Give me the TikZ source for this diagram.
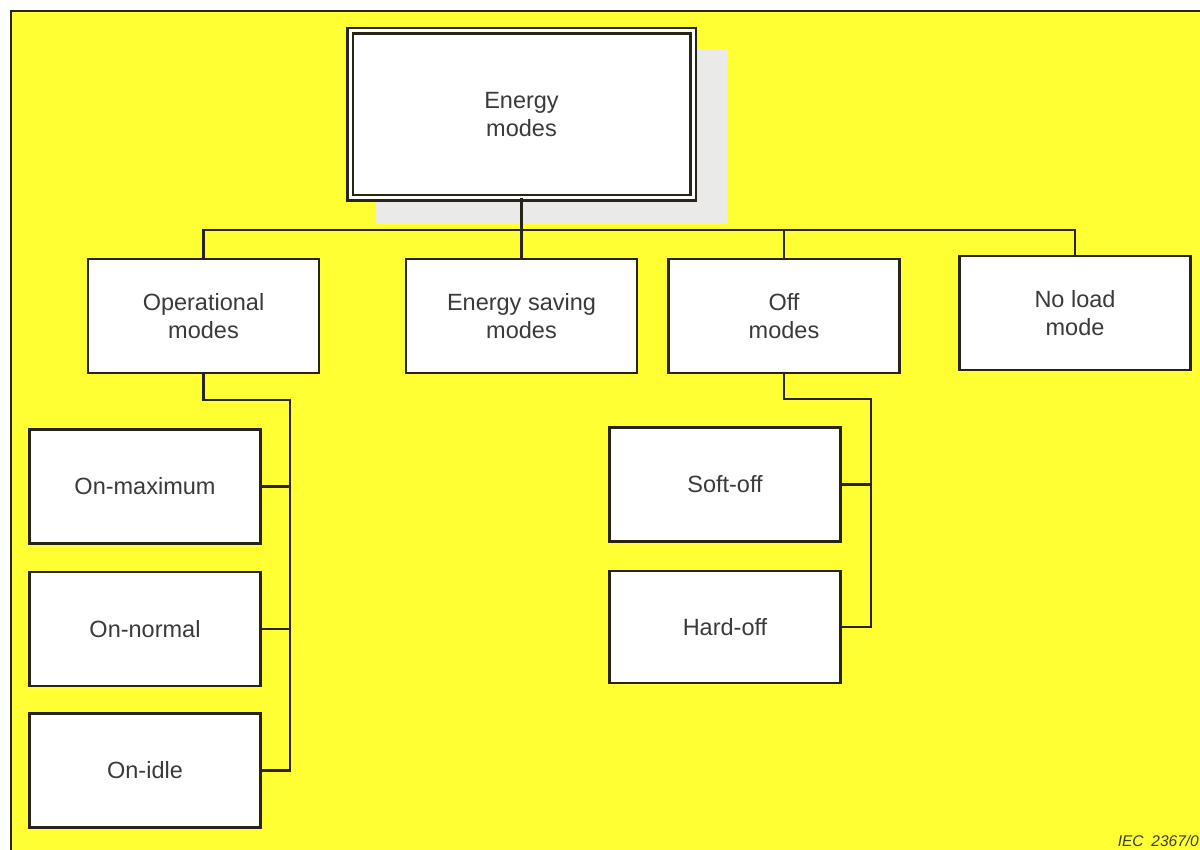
\documentclass[tikz,border=0pt]{standalone}
\usepackage{fontspec}
\newfontfamily\arialf{Liberation Sans}
\definecolor{bgyellow}{RGB}{255,255,51}
\definecolor{linec}{RGB}{40,36,24}
\definecolor{textc}{RGB}{58,58,58}
\definecolor{shadowc}{RGB}{234,234,232}
\tikzset{
  box/.style={draw=linec, line width=2.4pt, fill=white, minimum width=231pt, minimum height=114pt,
    inner sep=0pt, outer sep=0pt, align=center, text=textc,
    font={\arialf\fontsize{23.5}{28.5}\selectfont}},
  topbox/.style={box, line width=2.2pt, double=white, double distance=3pt, minimum width=343pt, minimum height=167pt},
  conn/.style={draw=linec, line width=2.4pt, line join=miter},
  iec/.style={text=textc, font={\arialf\itshape\fontsize{15.5}{18}\selectfont}, inner sep=0pt}
}
\begin{document}
\begin{tikzpicture}[x=1pt,y=-1pt]
\useasboundingbox (0,0) rectangle (1200,850);
\fill[white] (0,0) rectangle (1200,850);
\fill[bgyellow] (11,11) rectangle (1200,850);
\draw[linec, line width=1.5pt] (11,850) -- (11,11) -- (1200,11);
% shadow of the top box
\fill[shadowc] (376,49) rectangle (727,223);
% nodes
\node[topbox] (top) at (521.5,114.5) {Energy\\modes};
\node[box] (op) at (203.5,316) {Operational\\modes};
\node[box] (es) at (521.5,316) {Energy saving\\modes};
\node[box] (off) at (784,316) {Off\\modes};
\node[box] (nl) at (1075,313) {No load\\mode};
\node[box] (onmax) at (145,486.5) {On-maximum};
\node[box] (onnorm) at (145,629) {On-normal};
\node[box] (onidle) at (145,770.5) {On-idle};
\node[box] (soft) at (725,484.5) {Soft-off};
\node[box, minimum height=112pt] (hard) at (725,627) {Hard-off};
% junction coordinates
\coordinate (bus) at (0,230);
\coordinate (opj) at (290,400);
\coordinate (offj) at (871,399);
% connectors
\draw[conn] (top.south) -- (top.south |- bus);
\draw[conn] (op.north) -- (op.north |- bus) -- (nl.north |- bus) -- (nl.north);
\draw[conn] (es.north) -- (es.north |- bus);
\draw[conn] (off.north) -- (off.north |- bus);
\draw[conn] (op.south) |- (opj) -- (opj |- onidle.east) -- (onidle.east);
\draw[conn] (onmax.east) -- (onmax.east -| opj);
\draw[conn] (onnorm.east) -- (onnorm.east -| opj);
\draw[conn] (off.south) |- (offj) -- (offj |- hard.east) -- (hard.east);
\draw[conn] (soft.east) -- (soft.east -| offj);
\node[iec, anchor=base east] (lbl) at (1199,846) {IEC\enspace 2367/0};
\end{tikzpicture}
\end{document}
